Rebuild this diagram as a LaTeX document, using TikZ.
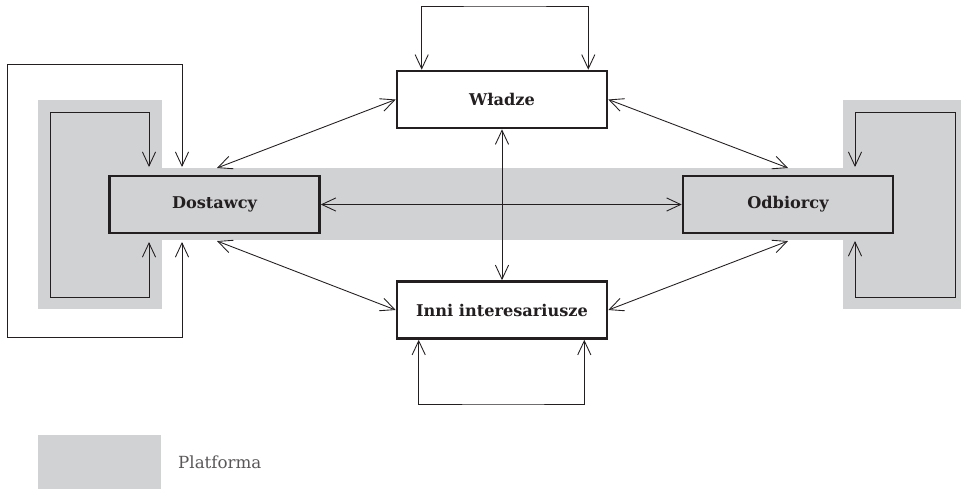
\documentclass[tikz,border=0pt]{standalone}
\usepackage{fontspec}
\setmainfont{DejaVu Serif}
\usetikzlibrary{arrows.meta,calc}
\definecolor{platf}{HTML}{D1D2D4}
\definecolor{ink}{HTML}{231F20}
\tikzset{
  >={Straight Barb[length=8pt,width=7.5pt]},
  actor/.style={draw=ink,line width=1.5pt,minimum width=4.2cm,minimum height=1.14cm,
    font=\fontsize{9.2}{11}\selectfont\bfseries,text=ink},
  link/.style={draw=ink,line width=0.5pt,<->},
}
\begin{document}
\begin{tikzpicture}[x=0.02cm,y=-0.02cm]
        \useasboundingbox (0,0) rectangle (961,491);
        % platforma
        \fill[platf] (38,100) rectangle (162,309);
        \fill[platf] (160,168) rectangle (845,240);
        \fill[platf] (843,100) rectangle (961,309);
        % uczestnicy
        \node[actor,fill=platf] (dost) at (214.5,204.5) {Dostawcy};
        \node[actor,fill=platf] (odb) at (788,204.5) {Odbiorcy};
        \node[actor,fill=white] (wladze) at (502,99.5) {Władze};
        \node[actor,fill=white] (inni) at (502,310) {Inni interesariusze};
        % punkty na krawedzi platformy
        \coordinate (dostN) at (217,168);
        \coordinate (dostS) at (217,241);
        \coordinate (odbN) at (788,168);
        \coordinate (odbS) at (788,241);
        \coordinate (dostA) at (149,167);
        \coordinate (dostB) at (149,242);
        \coordinate (dostC) at (182,167);
        \coordinate (dostD) at (182,242);
        \coordinate (odbA) at (855,167);
        \coordinate (odbB) at (855,241);
        % relacje
        \draw[link] (dost) -- (odb);
        \draw[link] (wladze) -- (inni);
        \draw[link] (dostN) -- (wladze.west);
        \draw[link] (dostS) -- (inni.west);
        \draw[link] (odbN) -- (wladze.east);
        \draw[link] (odbS) -- (inni.east);
        % petle
        \draw[link] (dostB) -- ++(0,55) -| (50,112) -| (dostA);
        \draw[link] (dostD) -- ++(0,95) -| (7,64) -| (dostC);
        \draw[link] (odbB) -- ++(0,56) -| (955,112) -| (odbA);
        \draw[link] ($(wladze.north west)+(26,0)$) |- (505,6) -| ($(wladze.north east)+(-20,0)$);
        \draw[link] ($(inni.south west)+(23,0)$) |- (505,404) -| ($(inni.south east)+(-24,0)$);
        % legenda
        \fill[platf] (38,435) rectangle (161,489);
        \node[anchor=west,font=\fontsize{9.5}{11}\selectfont,text=ink!75] (leg) at (172,462) {Platforma};
\end{tikzpicture}
\end{document}
